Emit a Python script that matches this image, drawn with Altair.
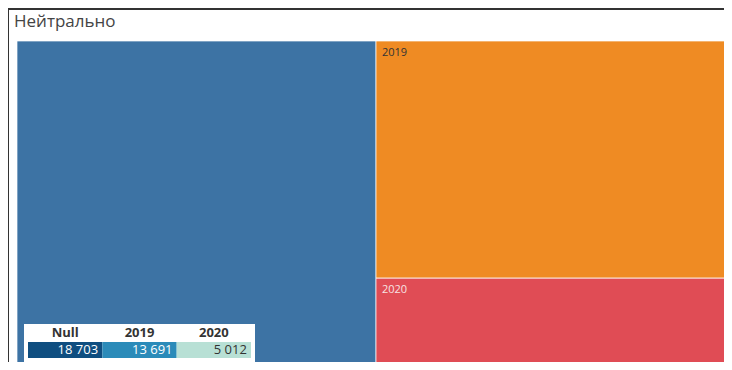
import altair as alt
import pandas as pd

# ---- data ----
title_text = "Нейтрально"
categories = ["Null", "2019", "2020"]
values = [18703, 13691, 5012]
tile_colors = ["#3d73a4", "#ef8b23", "#e04c55"]
label_colors = ["#ffffff", "#333333", "#f7e3e3"]
legend_colors = ["#0f4e80", "#2b8bb9", "#b8e0d5"]
legend_text_colors = ["#ffffff", "#ffffff", "#333333"]

# ---- treemap layout (slice first item, stack the rest) ----
total = sum(values)
rest = sum(values[1:])
rows = []
acc = 0.0
for i, (c, v) in enumerate(zip(categories, values)):
    if i == 0:
        x0, x1, y0, y1 = 0, v, 0.0, 1.0
    else:
        x0, x1 = values[0], total
        y0 = acc / rest
        acc += v
        y1 = acc / rest
    rows.append(dict(cat=c, value=v, x0=x0, x1=x1, y0=y0, y1=y1,
                     fill=tile_colors[i], lcol=label_colors[i],
                     show=(c != "Null"),
                     lfill=legend_colors[i], ltcol=legend_text_colors[i],
                     vtxt=f"{v:,}".replace(",", " ")))
df = pd.DataFrame(rows)

W, H = 716, 354
xs = alt.Scale(domain=[0, total], range=[9, 727])
ys = alt.Scale(domain=[0, 1], range=[33, 357])

tiles = alt.Chart(df).mark_rect(stroke="white", strokeWidth=1, strokeOpacity=0.7, clip=True).encode(
    x=alt.X("x0:Q", scale=xs, axis=None),
    x2="x1",
    y=alt.Y("y0:Q", scale=ys, axis=None),
    y2="y1",
    color=alt.Color("fill:N", scale=None),
)

labels = alt.Chart(df).transform_filter("datum.show").mark_text(
    align="left", baseline="top", dx=6, dy=6, fontSize=11, font="Open Sans"
).encode(
    x=alt.X("x0:Q", scale=xs, axis=None),
    y=alt.Y("y0:Q", scale=ys, axis=None),
    text="cat:N",
    color=alt.Color("lcol:N", scale=None),
)

title = alt.Chart(pd.DataFrame({"t": [title_text]})).mark_text(
    align="left", baseline="middle", fontSize=17, font="Open Sans", color="#444444"
).encode(x=alt.value(6), y=alt.value(14), text="t:N")

one = pd.DataFrame({"a": [1]})
border_top = alt.Chart(one).mark_rule(color="#333333", strokeWidth=2).encode(
    x=alt.value(0), x2=alt.value(W), y=alt.value(1)
)
border_left = alt.Chart(one).mark_rule(color="#333333", strokeWidth=2).encode(
    y=alt.value(0), y2=alt.value(H), x=alt.value(0)
)

# ---- table legend ----
lx = alt.Scale(domain=categories, range=[20, 243], paddingInner=0, paddingOuter=0)

box = alt.Chart(one).mark_rect(color="white").encode(
    x=alt.value(16), x2=alt.value(247), y=alt.value(316), y2=alt.value(354)
)

cells = alt.Chart(df).mark_rect().encode(
    x=alt.X("cat:N", scale=lx, axis=None, sort=categories),
    y=alt.value(334), y2=alt.value(350),
    color=alt.Color("lfill:N", scale=None),
)

heads = alt.Chart(df).mark_text(
    align="center", baseline="middle", fontSize=13, fontWeight="bold",
    font="Open Sans", color="#333333"
).encode(
    x=alt.X("cat:N", scale=lx, axis=None, sort=categories),
    y=alt.value(325),
    text="cat:N",
)

vals = alt.Chart(df).mark_text(
    align="right", baseline="middle", fontSize=13, font="Open Sans", dx=33
).encode(
    x=alt.X("cat:N", scale=lx, axis=None, sort=categories),
    y=alt.value(342),
    text="vtxt:N",
    color=alt.Color("ltcol:N", scale=None),
)

chart = alt.layer(tiles, labels, title, box, cells, heads, vals, border_top, border_left).resolve_scale(
    x="independent", y="independent"
).properties(
    width=W, height=H, padding=0, autosize="none", background="white"
).configure_view(stroke=None)

chart.save("out.html", embed_options={"renderer": "svg", "actions": False})
